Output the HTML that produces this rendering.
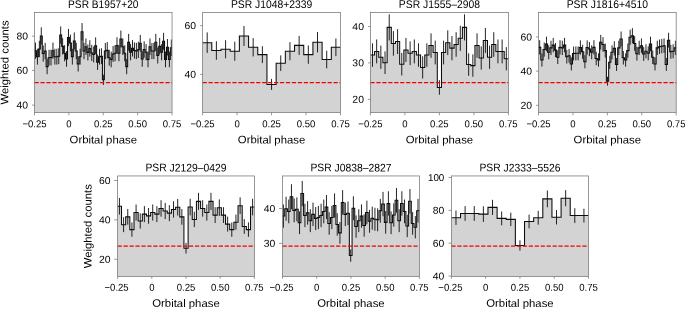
<!DOCTYPE html>
<html><head><meta charset="utf-8"><title>Orbital light curves</title>
<style>
html,body{margin:0;padding:0;background:#fff;}
svg{display:block;will-change:transform;}
text{font-family:"Liberation Sans",sans-serif;fill:#000;text-rendering:geometricPrecision;}
</style></head>
<body>
<svg width="685" height="309" viewBox="0 0 685 309">
<rect width="685" height="309" fill="#fff"/>
<g>
<path d="M34.5 112.45 L34.5 50.68 L36.44 50.68 L36.44 56.68 L38.38 56.68 L38.38 48.96 L40.32 48.96 L40.32 35.93 L42.26 35.93 L42.26 53.59 L44.2 53.59 L44.2 51.02 L46.15 51.02 L46.15 66.63 L48.09 66.63 L48.09 57.71 L50.03 57.71 L50.03 57.54 L51.97 57.54 L51.97 50.68 L53.91 50.68 L53.91 56.68 L55.85 56.68 L55.85 56.68 L57.79 56.68 L57.79 56.17 L59.73 56.17 L59.73 35.07 L61.67 35.07 L61.67 46.39 L63.61 46.39 L63.61 53.25 L65.55 53.25 L65.55 58.91 L67.49 58.91 L67.49 37.47 L69.44 37.47 L69.44 42.96 L71.38 42.96 L71.38 56.68 L73.32 56.68 L73.32 40.9 L75.26 40.9 L75.26 51.02 L77.2 51.02 L77.2 63.88 L79.14 63.88 L79.14 56.68 L81.08 56.68 L81.08 31.81 L83.02 31.81 L83.02 51.02 L84.96 51.02 L84.96 46.73 L86.9 46.73 L86.9 52.39 L88.84 52.39 L88.84 48.45 L90.78 48.45 L90.78 52.91 L92.73 52.91 L92.73 54.45 L94.67 54.45 L94.67 45.7 L96.61 45.7 L96.61 62.17 L98.55 62.17 L98.55 56.68 L100.49 56.68 L100.49 56.17 L102.43 56.17 L102.43 79.83 L104.37 79.83 L104.37 51.02 L106.31 51.02 L106.31 50.16 L108.25 50.16 L108.25 57.71 L110.19 57.71 L110.19 59.42 L112.13 59.42 L112.13 53.94 L114.07 53.94 L114.07 53.25 L116.02 53.25 L116.02 45.53 L117.96 45.53 L117.96 53.25 L119.9 53.25 L119.9 39.02 L121.84 39.02 L121.84 46.73 L123.78 46.73 L123.78 53.25 L125.72 53.25 L125.72 66.63 L127.66 66.63 L127.66 42.27 L129.6 42.27 L129.6 52.22 L131.54 52.22 L131.54 48.28 L133.48 48.28 L133.48 50.51 L135.42 50.51 L135.42 51.02 L137.36 51.02 L137.36 49.82 L139.31 49.82 L139.31 43.3 L141.25 43.3 L141.25 58.91 L143.19 58.91 L143.19 49.48 L145.13 49.48 L145.13 52.22 L147.07 52.22 L147.07 59.42 L149.01 59.42 L149.01 46.73 L150.95 46.73 L150.95 51.02 L152.89 51.02 L152.89 51.02 L154.83 51.02 L154.83 42.27 L156.77 42.27 L156.77 55.48 L158.71 55.48 L158.71 46.22 L160.65 46.22 L160.65 52.22 L162.6 52.22 L162.6 41.25 L164.54 41.25 L164.54 59.42 L166.48 59.42 L166.48 47.25 L168.42 47.25 L168.42 59.42 L170.36 59.42 L170.36 47.76 L172.05 47.76 L172.05 112.45 Z" fill="#d3d3d3" stroke="none"/>
<path d="M34.5 50.68 L36.44 50.68 L36.44 56.68 L38.38 56.68 L38.38 48.96 L40.32 48.96 L40.32 35.93 L42.26 35.93 L42.26 53.59 L44.2 53.59 L44.2 51.02 L46.15 51.02 L46.15 66.63 L48.09 66.63 L48.09 57.71 L50.03 57.71 L50.03 57.54 L51.97 57.54 L51.97 50.68 L53.91 50.68 L53.91 56.68 L55.85 56.68 L55.85 56.68 L57.79 56.68 L57.79 56.17 L59.73 56.17 L59.73 35.07 L61.67 35.07 L61.67 46.39 L63.61 46.39 L63.61 53.25 L65.55 53.25 L65.55 58.91 L67.49 58.91 L67.49 37.47 L69.44 37.47 L69.44 42.96 L71.38 42.96 L71.38 56.68 L73.32 56.68 L73.32 40.9 L75.26 40.9 L75.26 51.02 L77.2 51.02 L77.2 63.88 L79.14 63.88 L79.14 56.68 L81.08 56.68 L81.08 31.81 L83.02 31.81 L83.02 51.02 L84.96 51.02 L84.96 46.73 L86.9 46.73 L86.9 52.39 L88.84 52.39 L88.84 48.45 L90.78 48.45 L90.78 52.91 L92.73 52.91 L92.73 54.45 L94.67 54.45 L94.67 45.7 L96.61 45.7 L96.61 62.17 L98.55 62.17 L98.55 56.68 L100.49 56.68 L100.49 56.17 L102.43 56.17 L102.43 79.83 L104.37 79.83 L104.37 51.02 L106.31 51.02 L106.31 50.16 L108.25 50.16 L108.25 57.71 L110.19 57.71 L110.19 59.42 L112.13 59.42 L112.13 53.94 L114.07 53.94 L114.07 53.25 L116.02 53.25 L116.02 45.53 L117.96 45.53 L117.96 53.25 L119.9 53.25 L119.9 39.02 L121.84 39.02 L121.84 46.73 L123.78 46.73 L123.78 53.25 L125.72 53.25 L125.72 66.63 L127.66 66.63 L127.66 42.27 L129.6 42.27 L129.6 52.22 L131.54 52.22 L131.54 48.28 L133.48 48.28 L133.48 50.51 L135.42 50.51 L135.42 51.02 L137.36 51.02 L137.36 49.82 L139.31 49.82 L139.31 43.3 L141.25 43.3 L141.25 58.91 L143.19 58.91 L143.19 49.48 L145.13 49.48 L145.13 52.22 L147.07 52.22 L147.07 59.42 L149.01 59.42 L149.01 46.73 L150.95 46.73 L150.95 51.02 L152.89 51.02 L152.89 51.02 L154.83 51.02 L154.83 42.27 L156.77 42.27 L156.77 55.48 L158.71 55.48 L158.71 46.22 L160.65 46.22 L160.65 52.22 L162.6 52.22 L162.6 41.25 L164.54 41.25 L164.54 59.42 L166.48 59.42 L166.48 47.25 L168.42 47.25 L168.42 59.42 L170.36 59.42 L170.36 47.76 L172.05 47.76" fill="none" stroke="#0c0c0c" stroke-width="1.05" stroke-linejoin="miter"/>
<path d="M35.47 42.56V58.8M37.41 48.76V64.6M39.35 40.78V57.14M41.29 27.33V44.52M43.23 45.57V61.62M45.17 42.91V59.13M47.12 59.05V74.2M49.06 49.82V65.59M51 49.65V65.43M52.94 42.56V58.8M54.88 48.76V64.6M56.82 48.76V64.6M58.76 48.23V64.1M60.7 26.45V43.69M62.64 38.13V54.65M64.58 45.21V61.29M66.52 51.07V66.75M68.46 28.92V46.02M70.41 34.59V51.33M72.35 48.76V64.6M74.29 32.46V49.34M76.23 42.91V59.13M78.17 56.21V71.55M80.11 48.76V64.6M82.05 23.09V40.54M83.99 42.91V59.13M85.93 38.48V54.98M87.87 44.33V60.46M89.81 40.25V56.64M91.75 44.86V60.95M93.7 46.46V62.45M95.64 37.42V53.99M97.58 54.44V69.9M99.52 48.76V64.6M101.46 48.23V64.1M103.4 74.69V84.98M105.34 42.91V59.13M107.28 42.03V58.3M109.22 49.82V65.59M111.16 51.6V67.25M113.1 45.92V61.95M115.05 45.21V61.29M116.99 37.24V53.82M118.93 45.21V61.29M120.87 30.52V47.51M122.81 38.48V54.98M124.75 45.21V61.29M126.69 59.05V74.2M128.63 33.88V50.67M130.57 44.15V60.29M132.51 40.08V56.48M134.45 42.38V58.63M136.39 42.91V59.13M138.34 41.67V57.97M140.28 34.94V51.66M142.22 51.07V66.75M144.16 41.32V57.64M146.1 44.15V60.29M148.04 51.6V67.25M149.98 38.48V54.98M151.92 42.91V59.13M153.86 42.91V59.13M155.8 33.88V50.67M157.74 47.52V63.44M159.68 37.95V54.49M161.63 44.15V60.29M163.57 32.82V49.67M165.51 51.6V67.25M167.45 39.01V55.48M169.39 51.6V67.25M171.33 39.55V55.98" fill="none" stroke="#0c0c0c" stroke-width="0.9"/>
<path d="M34.5 82.5H172.05" stroke="#f40000" stroke-width="1.25" stroke-dasharray="4.25 1.7" fill="none"/>
<rect x="34.5" y="12.45" width="137.55" height="100" fill="none" stroke="#7e7e7e" stroke-width="0.8"/>
<path d="M34.5 112.45v2.9M68.89 112.45v2.9M103.28 112.45v2.9M137.66 112.45v2.9M172.05 112.45v2.9M34.5 36.16h-2.45M34.5 70.4h-2.45M34.5 105.1h-2.45" stroke="#7e7e7e" stroke-width="0.8" fill="none"/>
<text x="34.5" y="127.3" font-size="10" text-anchor="middle" textLength="24.16" lengthAdjust="spacingAndGlyphs" transform="rotate(0.05 34.5 127.3)">−0.25</text>
<text x="68.89" y="127.3" font-size="10" text-anchor="middle" textLength="5.31" lengthAdjust="spacingAndGlyphs" transform="rotate(0.05 68.89 127.3)">0</text>
<text x="103.28" y="127.3" font-size="10" text-anchor="middle" textLength="18.59" lengthAdjust="spacingAndGlyphs" transform="rotate(0.05 103.28 127.3)">0.25</text>
<text x="137.66" y="127.3" font-size="10" text-anchor="middle" textLength="18.59" lengthAdjust="spacingAndGlyphs" transform="rotate(0.05 137.66 127.3)">0.50</text>
<text x="172.05" y="127.3" font-size="10" text-anchor="middle" textLength="18.59" lengthAdjust="spacingAndGlyphs" transform="rotate(0.05 172.05 127.3)">0.75</text>
<text x="28.05" y="39.61" font-size="10" text-anchor="end" textLength="11.57" lengthAdjust="spacingAndGlyphs" transform="rotate(0.05 28.05 39.61)">80</text>
<text x="28.05" y="73.85" font-size="10" text-anchor="end" textLength="11.57" lengthAdjust="spacingAndGlyphs" transform="rotate(0.05 28.05 73.85)">60</text>
<text x="28.05" y="108.55" font-size="10" text-anchor="end" textLength="11.57" lengthAdjust="spacingAndGlyphs" transform="rotate(0.05 28.05 108.55)">40</text>
<text x="103.28" y="7.9" font-size="11" text-anchor="middle" textLength="70.43" lengthAdjust="spacingAndGlyphs" transform="rotate(0.05 103.28 7.9)">PSR B1957+20</text>
<text x="103.28" y="143.4" font-size="10.9" text-anchor="middle" textLength="67.42" lengthAdjust="spacingAndGlyphs" transform="rotate(0.05 103.28 143.4)">Orbital phase</text>
<text x="8.4" y="62.45" font-size="10.9" text-anchor="middle" textLength="84.23" lengthAdjust="spacingAndGlyphs" transform="rotate(-89.95 8.4 62.45)">Weighted counts</text>
</g>
<g>
<path d="M202.6 112.45 L202.6 42.68 L211.79 42.68 L211.79 50.49 L220.99 50.49 L220.99 49.27 L230.18 49.27 L230.18 51.22 L239.37 51.22 L239.37 35.97 L248.57 35.97 L248.57 47.32 L257.76 47.32 L257.76 54.64 L266.95 54.64 L266.95 84.4 L276.15 84.4 L276.15 63.18 L285.34 63.18 L285.34 51.22 L294.53 51.22 L294.53 45.36 L303.73 45.36 L303.73 54.64 L312.92 54.64 L312.92 42.19 L322.11 42.19 L322.11 59.52 L331.31 59.52 L331.31 47.32 L340.5 47.32 L340.5 112.45 Z" fill="#d3d3d3" stroke="none"/>
<path d="M202.6 42.68 L211.79 42.68 L211.79 50.49 L220.99 50.49 L220.99 49.27 L230.18 49.27 L230.18 51.22 L239.37 51.22 L239.37 35.97 L248.57 35.97 L248.57 47.32 L257.76 47.32 L257.76 54.64 L266.95 54.64 L266.95 84.4 L276.15 84.4 L276.15 63.18 L285.34 63.18 L285.34 51.22 L294.53 51.22 L294.53 45.36 L303.73 45.36 L303.73 54.64 L312.92 54.64 L312.92 42.19 L322.11 42.19 L322.11 59.52 L331.31 59.52 L331.31 47.32 L340.5 47.32" fill="none" stroke="#0c0c0c" stroke-width="1.05" stroke-linejoin="miter"/>
<path d="M207.2 32.43V52.93M216.39 41.22V59.76M225.58 40.24V58.3M234.78 41.7V60.74M243.97 25.97V45.97M253.16 38.17V56.47M262.36 46.22V63.05M271.55 78.91V89.89M280.74 55.37V70.98M289.94 42.19V60.25M299.13 35.85V54.88M308.32 45.49V63.79M317.52 31.94V52.44M326.71 50.73V68.3M335.9 38.53V56.1" fill="none" stroke="#0c0c0c" stroke-width="0.9"/>
<path d="M202.6 82.5H340.5" stroke="#f40000" stroke-width="1.25" stroke-dasharray="4.25 1.7" fill="none"/>
<rect x="202.6" y="12.45" width="137.9" height="100" fill="none" stroke="#7e7e7e" stroke-width="0.8"/>
<path d="M202.6 112.45v2.9M237.07 112.45v2.9M271.55 112.45v2.9M306.02 112.45v2.9M340.5 112.45v2.9M202.6 25.6h-2.45M202.6 74.4h-2.45" stroke="#7e7e7e" stroke-width="0.8" fill="none"/>
<text x="202.6" y="127.3" font-size="10" text-anchor="middle" textLength="24.16" lengthAdjust="spacingAndGlyphs" transform="rotate(0.05 202.6 127.3)">−0.25</text>
<text x="237.07" y="127.3" font-size="10" text-anchor="middle" textLength="5.31" lengthAdjust="spacingAndGlyphs" transform="rotate(0.05 237.07 127.3)">0</text>
<text x="271.55" y="127.3" font-size="10" text-anchor="middle" textLength="18.59" lengthAdjust="spacingAndGlyphs" transform="rotate(0.05 271.55 127.3)">0.25</text>
<text x="306.02" y="127.3" font-size="10" text-anchor="middle" textLength="18.59" lengthAdjust="spacingAndGlyphs" transform="rotate(0.05 306.02 127.3)">0.50</text>
<text x="340.5" y="127.3" font-size="10" text-anchor="middle" textLength="18.59" lengthAdjust="spacingAndGlyphs" transform="rotate(0.05 340.5 127.3)">0.75</text>
<text x="196.15" y="29.05" font-size="10" text-anchor="end" textLength="11.57" lengthAdjust="spacingAndGlyphs" transform="rotate(0.05 196.15 29.05)">60</text>
<text x="196.15" y="77.85" font-size="10" text-anchor="end" textLength="11.57" lengthAdjust="spacingAndGlyphs" transform="rotate(0.05 196.15 77.85)">40</text>
<text x="271.55" y="7.9" font-size="11" text-anchor="middle" textLength="81.35" lengthAdjust="spacingAndGlyphs" transform="rotate(0.05 271.55 7.9)">PSR J1048+2339</text>
<text x="271.55" y="143.4" font-size="10.9" text-anchor="middle" textLength="67.42" lengthAdjust="spacingAndGlyphs" transform="rotate(0.05 271.55 143.4)">Orbital phase</text>
</g>
<g>
<path d="M370.4 112.45 L370.4 55.06 L374.58 55.06 L374.58 51.42 L378.76 51.42 L378.76 57.24 L382.95 57.24 L382.95 62.7 L387.13 62.7 L387.13 27.39 L391.31 27.39 L391.31 43.41 L395.49 43.41 L395.49 41.59 L399.67 41.59 L399.67 64.16 L403.85 64.16 L403.85 49.96 L408.04 49.96 L408.04 53.24 L412.22 53.24 L412.22 51.42 L416.4 51.42 L416.4 55.06 L420.58 55.06 L420.58 67.43 L424.76 67.43 L424.76 55.06 L428.95 55.06 L428.95 45.59 L433.13 45.59 L433.13 52.51 L437.31 52.51 L437.31 87.45 L441.49 87.45 L441.49 52.51 L445.67 52.51 L445.67 42.68 L449.85 42.68 L449.85 48.14 L454.04 48.14 L454.04 44.5 L458.22 44.5 L458.22 38.31 L462.4 38.31 L462.4 27.39 L466.58 27.39 L466.58 64.52 L470.76 64.52 L470.76 65.61 L474.95 65.61 L474.95 45.59 L479.13 45.59 L479.13 57.97 L483.31 57.97 L483.31 40.5 L487.49 40.5 L487.49 57.24 L491.67 57.24 L491.67 44.5 L495.85 44.5 L495.85 51.42 L500.04 51.42 L500.04 51.42 L504.22 51.42 L504.22 58.7 L508.4 58.7 L508.4 112.45 Z" fill="#d3d3d3" stroke="none"/>
<path d="M370.4 55.06 L374.58 55.06 L374.58 51.42 L378.76 51.42 L378.76 57.24 L382.95 57.24 L382.95 62.7 L387.13 62.7 L387.13 27.39 L391.31 27.39 L391.31 43.41 L395.49 43.41 L395.49 41.59 L399.67 41.59 L399.67 64.16 L403.85 64.16 L403.85 49.96 L408.04 49.96 L408.04 53.24 L412.22 53.24 L412.22 51.42 L416.4 51.42 L416.4 55.06 L420.58 55.06 L420.58 67.43 L424.76 67.43 L424.76 55.06 L428.95 55.06 L428.95 45.59 L433.13 45.59 L433.13 52.51 L437.31 52.51 L437.31 87.45 L441.49 87.45 L441.49 52.51 L445.67 52.51 L445.67 42.68 L449.85 42.68 L449.85 48.14 L454.04 48.14 L454.04 44.5 L458.22 44.5 L458.22 38.31 L462.4 38.31 L462.4 27.39 L466.58 27.39 L466.58 64.52 L470.76 64.52 L470.76 65.61 L474.95 65.61 L474.95 45.59 L479.13 45.59 L479.13 57.97 L483.31 57.97 L483.31 40.5 L487.49 40.5 L487.49 57.24 L491.67 57.24 L491.67 44.5 L495.85 44.5 L495.85 51.42 L500.04 51.42 L500.04 51.42 L504.22 51.42 L504.22 58.7 L508.4 58.7" fill="none" stroke="#0c0c0c" stroke-width="1.05" stroke-linejoin="miter"/>
<path d="M372.49 43.3V66.81M376.67 39.48V63.35M380.85 45.6V68.88M385.04 51.34V74.06M389.22 14.32V40.46M393.4 31.08V55.74M397.58 29.17V54M401.76 52.87V75.44M405.95 37.95V61.97M410.13 41.39V65.08M414.31 39.48V63.35M418.49 43.3V66.81M422.67 56.32V78.55M426.85 43.3V66.81M431.04 33.37V57.81M435.22 40.63V64.39M439.4 80.17V94.73M443.58 40.63V64.39M447.76 30.32V55.04M451.95 36.04V60.24M456.13 32.23V56.77M460.31 25.74V50.88M464.49 14.32V40.46M468.67 53.25V75.79M472.85 54.4V76.82M477.04 33.37V57.81M481.22 46.36V69.58M485.4 28.03V52.96M489.58 45.6V68.88M493.76 32.23V56.77M497.95 39.48V63.35M502.13 39.48V63.35M506.31 47.13V70.27" fill="none" stroke="#0c0c0c" stroke-width="0.9"/>
<path d="M370.4 82.5H508.4" stroke="#f40000" stroke-width="1.25" stroke-dasharray="4.25 1.7" fill="none"/>
<rect x="370.4" y="12.45" width="138" height="100" fill="none" stroke="#7e7e7e" stroke-width="0.8"/>
<path d="M370.4 112.45v2.9M404.9 112.45v2.9M439.4 112.45v2.9M473.9 112.45v2.9M508.4 112.45v2.9M370.4 26.5h-2.45M370.4 62.9h-2.45M370.4 99.35h-2.45" stroke="#7e7e7e" stroke-width="0.8" fill="none"/>
<text x="370.4" y="127.3" font-size="10" text-anchor="middle" textLength="24.16" lengthAdjust="spacingAndGlyphs" transform="rotate(0.05 370.4 127.3)">−0.25</text>
<text x="404.9" y="127.3" font-size="10" text-anchor="middle" textLength="5.31" lengthAdjust="spacingAndGlyphs" transform="rotate(0.05 404.9 127.3)">0</text>
<text x="439.4" y="127.3" font-size="10" text-anchor="middle" textLength="18.59" lengthAdjust="spacingAndGlyphs" transform="rotate(0.05 439.4 127.3)">0.25</text>
<text x="473.9" y="127.3" font-size="10" text-anchor="middle" textLength="18.59" lengthAdjust="spacingAndGlyphs" transform="rotate(0.05 473.9 127.3)">0.50</text>
<text x="508.4" y="127.3" font-size="10" text-anchor="middle" textLength="18.59" lengthAdjust="spacingAndGlyphs" transform="rotate(0.05 508.4 127.3)">0.75</text>
<text x="363.95" y="29.95" font-size="10" text-anchor="end" textLength="11.57" lengthAdjust="spacingAndGlyphs" transform="rotate(0.05 363.95 29.95)">40</text>
<text x="363.95" y="66.35" font-size="10" text-anchor="end" textLength="11.57" lengthAdjust="spacingAndGlyphs" transform="rotate(0.05 363.95 66.35)">30</text>
<text x="363.95" y="102.8" font-size="10" text-anchor="end" textLength="11.57" lengthAdjust="spacingAndGlyphs" transform="rotate(0.05 363.95 102.8)">20</text>
<text x="439.4" y="7.9" font-size="11" text-anchor="middle" textLength="81.06" lengthAdjust="spacingAndGlyphs" transform="rotate(0.05 439.4 7.9)">PSR J1555–2908</text>
<text x="439.4" y="143.4" font-size="10.9" text-anchor="middle" textLength="67.42" lengthAdjust="spacingAndGlyphs" transform="rotate(0.05 439.4 143.4)">Orbital phase</text>
</g>
<g>
<path d="M538.5 112.45 L538.5 47.36 L540.8 47.36 L540.8 60.01 L543.06 60.01 L543.06 49.58 L545.32 49.58 L545.32 43.94 L547.59 43.94 L547.59 52.32 L549.85 52.32 L549.85 47.87 L552.11 47.87 L552.11 45.14 L554.37 45.14 L554.37 50.1 L556.63 50.1 L556.63 57.28 L558.89 57.28 L558.89 47.36 L561.16 47.36 L561.16 47.87 L563.42 47.87 L563.42 45.14 L565.68 45.14 L565.68 56.77 L567.94 56.77 L567.94 55.74 L570.2 55.74 L570.2 63.95 L572.46 63.95 L572.46 53.52 L574.73 53.52 L574.73 53.34 L576.99 53.34 L576.99 53.34 L579.25 53.34 L579.25 47.53 L581.51 47.53 L581.51 51.81 L583.77 51.81 L583.77 61.72 L586.03 61.72 L586.03 47.53 L588.3 47.53 L588.3 49.07 L590.56 49.07 L590.56 52.32 L592.82 52.32 L592.82 47.36 L595.08 47.36 L595.08 58.48 L597.34 58.48 L597.34 60.01 L599.6 60.01 L599.6 42.23 L601.87 42.23 L601.87 44.45 L604.13 44.45 L604.13 50.61 L606.39 50.61 L606.39 81.22 L608.65 81.22 L608.65 62.24 L610.91 62.24 L610.91 52.32 L613.17 52.32 L613.17 48.39 L615.44 48.39 L615.44 64.46 L617.7 64.46 L617.7 47.87 L619.96 47.87 L619.96 38.98 L622.22 38.98 L622.22 57.79 L624.48 57.79 L624.48 60.01 L626.74 60.01 L626.74 50.61 L629.01 50.61 L629.01 37.27 L631.27 37.27 L631.27 35.73 L633.53 35.73 L633.53 43.43 L635.79 43.43 L635.79 53.69 L638.05 53.69 L638.05 47.87 L640.31 47.87 L640.31 45.65 L642.58 45.65 L642.58 54.03 L644.84 54.03 L644.84 51.29 L647.1 51.29 L647.1 53.34 L649.36 53.34 L649.36 43.94 L651.62 43.94 L651.62 57.28 L653.88 57.28 L653.88 63.95 L656.15 63.95 L656.15 47.87 L658.41 47.87 L658.41 46.68 L660.67 46.68 L660.67 46.16 L662.93 46.16 L662.93 45.65 L665.19 45.65 L665.19 64.46 L667.45 64.46 L667.45 40.18 L669.72 40.18 L669.72 51.81 L671.98 51.81 L671.98 51.29 L674.24 51.29 L674.24 47.87 L676.2 47.87 L676.2 112.45 Z" fill="#d3d3d3" stroke="none"/>
<path d="M538.5 47.36 L540.8 47.36 L540.8 60.01 L543.06 60.01 L543.06 49.58 L545.32 49.58 L545.32 43.94 L547.59 43.94 L547.59 52.32 L549.85 52.32 L549.85 47.87 L552.11 47.87 L552.11 45.14 L554.37 45.14 L554.37 50.1 L556.63 50.1 L556.63 57.28 L558.89 57.28 L558.89 47.36 L561.16 47.36 L561.16 47.87 L563.42 47.87 L563.42 45.14 L565.68 45.14 L565.68 56.77 L567.94 56.77 L567.94 55.74 L570.2 55.74 L570.2 63.95 L572.46 63.95 L572.46 53.52 L574.73 53.52 L574.73 53.34 L576.99 53.34 L576.99 53.34 L579.25 53.34 L579.25 47.53 L581.51 47.53 L581.51 51.81 L583.77 51.81 L583.77 61.72 L586.03 61.72 L586.03 47.53 L588.3 47.53 L588.3 49.07 L590.56 49.07 L590.56 52.32 L592.82 52.32 L592.82 47.36 L595.08 47.36 L595.08 58.48 L597.34 58.48 L597.34 60.01 L599.6 60.01 L599.6 42.23 L601.87 42.23 L601.87 44.45 L604.13 44.45 L604.13 50.61 L606.39 50.61 L606.39 81.22 L608.65 81.22 L608.65 62.24 L610.91 62.24 L610.91 52.32 L613.17 52.32 L613.17 48.39 L615.44 48.39 L615.44 64.46 L617.7 64.46 L617.7 47.87 L619.96 47.87 L619.96 38.98 L622.22 38.98 L622.22 57.79 L624.48 57.79 L624.48 60.01 L626.74 60.01 L626.74 50.61 L629.01 50.61 L629.01 37.27 L631.27 37.27 L631.27 35.73 L633.53 35.73 L633.53 43.43 L635.79 43.43 L635.79 53.69 L638.05 53.69 L638.05 47.87 L640.31 47.87 L640.31 45.65 L642.58 45.65 L642.58 54.03 L644.84 54.03 L644.84 51.29 L647.1 51.29 L647.1 53.34 L649.36 53.34 L649.36 43.94 L651.62 43.94 L651.62 57.28 L653.88 57.28 L653.88 63.95 L656.15 63.95 L656.15 47.87 L658.41 47.87 L658.41 46.68 L660.67 46.68 L660.67 46.16 L662.93 46.16 L662.93 45.65 L665.19 45.65 L665.19 64.46 L667.45 64.46 L667.45 40.18 L669.72 40.18 L669.72 51.81 L671.98 51.81 L671.98 51.29 L674.24 51.29 L674.24 47.87 L676.2 47.87" fill="none" stroke="#0c0c0c" stroke-width="1.05" stroke-linejoin="miter"/>
<path d="M539.67 40.2V54.52M541.93 53.36V66.67M544.19 42.51V56.66M546.46 36.65V51.23M548.72 45.35V59.29M550.98 40.73V55.02M553.24 37.89V52.39M555.5 43.04V57.15M557.76 50.51V64.04M560.03 40.2V54.52M562.29 40.73V55.02M564.55 37.89V52.39M566.81 49.98V63.55M569.07 48.91V62.57M571.33 57.46V70.43M573.6 46.6V60.44M575.86 46.42V60.27M578.12 46.42V60.27M580.38 40.38V54.69M582.64 44.82V58.79M584.9 55.14V68.31M587.17 40.38V54.69M589.43 41.97V56.17M591.69 45.35V59.29M593.95 40.2V54.52M596.21 51.76V65.19M598.47 53.36V66.67M600.74 34.87V49.59M603 37.18V51.73M605.26 43.57V57.64M607.52 76.77V85.66M609.78 55.68V68.8M612.04 45.35V59.29M614.3 41.26V55.51M616.57 57.99V70.93M618.83 40.73V55.02M621.09 31.5V46.46M623.35 51.05V64.54M625.61 53.36V66.67M627.87 43.57V57.64M630.14 29.73V44.81M632.4 28.13V43.33M634.66 36.11V50.74M636.92 46.77V60.6M639.18 40.73V55.02M641.44 38.42V52.88M643.71 47.13V60.93M645.97 44.28V58.3M648.23 46.42V60.27M650.49 36.65V51.23M652.75 50.51V64.04M655.01 57.46V70.43M657.28 40.73V55.02M659.54 39.49V53.87M661.8 38.95V53.37M664.06 38.42V52.88M666.32 57.99V70.93M668.58 32.74V47.61M670.85 44.82V58.79M673.11 44.28V58.3M675.37 40.73V55.02" fill="none" stroke="#0c0c0c" stroke-width="0.9"/>
<path d="M538.5 82.5H676.2" stroke="#f40000" stroke-width="1.25" stroke-dasharray="4.25 1.7" fill="none"/>
<rect x="538.5" y="12.45" width="137.7" height="100" fill="none" stroke="#7e7e7e" stroke-width="0.8"/>
<path d="M538.5 112.45v2.9M572.92 112.45v2.9M607.35 112.45v2.9M641.78 112.45v2.9M676.2 112.45v2.9M538.5 36.95h-2.45M538.5 71.15h-2.45M538.5 105.34h-2.45" stroke="#7e7e7e" stroke-width="0.8" fill="none"/>
<text x="538.5" y="127.3" font-size="10" text-anchor="middle" textLength="24.16" lengthAdjust="spacingAndGlyphs" transform="rotate(0.05 538.5 127.3)">−0.25</text>
<text x="572.92" y="127.3" font-size="10" text-anchor="middle" textLength="5.31" lengthAdjust="spacingAndGlyphs" transform="rotate(0.05 572.92 127.3)">0</text>
<text x="607.35" y="127.3" font-size="10" text-anchor="middle" textLength="18.59" lengthAdjust="spacingAndGlyphs" transform="rotate(0.05 607.35 127.3)">0.25</text>
<text x="641.78" y="127.3" font-size="10" text-anchor="middle" textLength="18.59" lengthAdjust="spacingAndGlyphs" transform="rotate(0.05 641.78 127.3)">0.50</text>
<text x="676.2" y="127.3" font-size="10" text-anchor="middle" textLength="18.59" lengthAdjust="spacingAndGlyphs" transform="rotate(0.05 676.2 127.3)">0.75</text>
<text x="532.05" y="40.4" font-size="10" text-anchor="end" textLength="11.57" lengthAdjust="spacingAndGlyphs" transform="rotate(0.05 532.05 40.4)">60</text>
<text x="532.05" y="74.6" font-size="10" text-anchor="end" textLength="11.57" lengthAdjust="spacingAndGlyphs" transform="rotate(0.05 532.05 74.6)">40</text>
<text x="532.05" y="108.79" font-size="10" text-anchor="end" textLength="11.57" lengthAdjust="spacingAndGlyphs" transform="rotate(0.05 532.05 108.79)">20</text>
<text x="607.35" y="7.9" font-size="11" text-anchor="middle" textLength="81.35" lengthAdjust="spacingAndGlyphs" transform="rotate(0.05 607.35 7.9)">PSR J1816+4510</text>
<text x="607.35" y="143.4" font-size="10.9" text-anchor="middle" textLength="67.42" lengthAdjust="spacingAndGlyphs" transform="rotate(0.05 607.35 143.4)">Orbital phase</text>
</g>
<g>
<path d="M117.6 276.4 L117.6 206.28 L121.51 206.28 L121.51 224.7 L125.67 224.7 L125.67 216.86 L129.83 216.86 L129.83 229.6 L134 229.6 L134 212.55 L138.16 212.55 L138.16 220.98 L142.32 220.98 L142.32 214.12 L146.48 214.12 L146.48 215.88 L150.64 215.88 L150.64 212.55 L154.8 212.55 L154.8 214.12 L158.97 214.12 L158.97 208.43 L163.13 208.43 L163.13 210.98 L167.29 210.98 L167.29 213.14 L171.45 213.14 L171.45 209.41 L175.61 209.41 L175.61 207.26 L179.77 207.26 L179.77 216.86 L183.93 216.86 L183.93 248.22 L188.1 248.22 L188.1 207.06 L192.26 207.06 L192.26 219.41 L196.42 219.41 L196.42 201.38 L200.58 201.38 L200.58 208.43 L204.74 208.43 L204.74 212.55 L208.9 212.55 L208.9 201.38 L213.06 201.38 L213.06 215.1 L217.23 215.1 L217.23 207.65 L221.39 207.65 L221.39 215.1 L225.55 215.1 L225.55 224.11 L229.71 224.11 L229.71 229.6 L233.87 229.6 L233.87 222.15 L238.03 222.15 L238.03 205.69 L242.2 205.69 L242.2 226.46 L246.36 226.46 L246.36 229.6 L250.52 229.6 L250.52 207.06 L254.4 207.06 L254.4 276.4 Z" fill="#d3d3d3" stroke="none"/>
<path d="M117.6 206.28 L121.51 206.28 L121.51 224.7 L125.67 224.7 L125.67 216.86 L129.83 216.86 L129.83 229.6 L134 229.6 L134 212.55 L138.16 212.55 L138.16 220.98 L142.32 220.98 L142.32 214.12 L146.48 214.12 L146.48 215.88 L150.64 215.88 L150.64 212.55 L154.8 212.55 L154.8 214.12 L158.97 214.12 L158.97 208.43 L163.13 208.43 L163.13 210.98 L167.29 210.98 L167.29 213.14 L171.45 213.14 L171.45 209.41 L175.61 209.41 L175.61 207.26 L179.77 207.26 L179.77 216.86 L183.93 216.86 L183.93 248.22 L188.1 248.22 L188.1 207.06 L192.26 207.06 L192.26 219.41 L196.42 219.41 L196.42 201.38 L200.58 201.38 L200.58 208.43 L204.74 208.43 L204.74 212.55 L208.9 212.55 L208.9 201.38 L213.06 201.38 L213.06 215.1 L217.23 215.1 L217.23 207.65 L221.39 207.65 L221.39 215.1 L225.55 215.1 L225.55 224.11 L229.71 224.11 L229.71 229.6 L233.87 229.6 L233.87 222.15 L238.03 222.15 L238.03 205.69 L242.2 205.69 L242.2 226.46 L246.36 226.46 L246.36 229.6 L250.52 229.6 L250.52 207.06 L254.4 207.06" fill="none" stroke="#0c0c0c" stroke-width="1.05" stroke-linejoin="miter"/>
<path d="M119.43 197.95V214.6M123.59 217.26V232.14M127.75 209.03V224.69M131.92 222.41V236.79M136.08 204.51V220.58M140.24 213.35V228.6M144.4 206.16V222.08M148.56 208V223.76M152.72 204.51V220.58M156.88 206.16V222.08M161.05 200.21V216.66M165.21 202.87V219.09M169.37 205.13V221.14M173.53 201.23V217.59M177.69 198.98V215.53M181.85 209.03V224.69M186.01 242.93V253.51M190.18 198.77V215.35M194.34 211.7V227.11M198.5 192.83V209.92M202.66 200.21V216.66M206.82 204.51V220.58M210.98 192.83V209.92M215.15 207.18V223.01M219.31 199.39V215.91M223.47 207.18V223.01M227.63 216.64V231.58M231.79 222.41V236.79M235.95 214.58V229.72M240.11 197.34V214.04M244.28 219.11V233.82M248.44 222.41V236.79M252.6 198.77V215.35" fill="none" stroke="#0c0c0c" stroke-width="0.9"/>
<path d="M117.6 246H254.4" stroke="#f40000" stroke-width="1.25" stroke-dasharray="4.25 1.7" fill="none"/>
<rect x="117.6" y="175.95" width="136.8" height="100.45" fill="none" stroke="#7e7e7e" stroke-width="0.8"/>
<path d="M117.6 276.4v2.4M151.8 276.4v2.4M186 276.4v2.4M220.2 276.4v2.4M254.4 276.4v2.4M117.6 180.5h-3.45M117.6 219.85h-3.45M117.6 259.25h-3.45" stroke="#7e7e7e" stroke-width="0.8" fill="none"/>
<text x="116.6" y="290.8" font-size="10" text-anchor="middle" textLength="24.16" lengthAdjust="spacingAndGlyphs" transform="rotate(0.05 116.6 290.8)">−0.25</text>
<text x="151.8" y="290.8" font-size="10" text-anchor="middle" textLength="5.31" lengthAdjust="spacingAndGlyphs" transform="rotate(0.05 151.8 290.8)">0</text>
<text x="186" y="290.8" font-size="10" text-anchor="middle" textLength="18.59" lengthAdjust="spacingAndGlyphs" transform="rotate(0.05 186 290.8)">0.25</text>
<text x="220.2" y="290.8" font-size="10" text-anchor="middle" textLength="18.59" lengthAdjust="spacingAndGlyphs" transform="rotate(0.05 220.2 290.8)">0.50</text>
<text x="254.4" y="290.8" font-size="10" text-anchor="middle" textLength="18.59" lengthAdjust="spacingAndGlyphs" transform="rotate(0.05 254.4 290.8)">0.75</text>
<text x="110.5" y="183.95" font-size="10" text-anchor="end" textLength="11.57" lengthAdjust="spacingAndGlyphs" transform="rotate(0.05 110.5 183.95)">60</text>
<text x="110.5" y="223.3" font-size="10" text-anchor="end" textLength="11.57" lengthAdjust="spacingAndGlyphs" transform="rotate(0.05 110.5 223.3)">40</text>
<text x="110.5" y="262.7" font-size="10" text-anchor="end" textLength="11.57" lengthAdjust="spacingAndGlyphs" transform="rotate(0.05 110.5 262.7)">20</text>
<text x="186" y="171.4" font-size="11" text-anchor="middle" textLength="81.06" lengthAdjust="spacingAndGlyphs" transform="rotate(0.05 186 171.4)">PSR J2129–0429</text>
<text x="186" y="306.9" font-size="10.9" text-anchor="middle" textLength="67.42" lengthAdjust="spacingAndGlyphs" transform="rotate(0.05 186 306.9)">Orbital phase</text>
<text x="91.5" y="226.17" font-size="10.9" text-anchor="middle" textLength="84.23" lengthAdjust="spacingAndGlyphs" transform="rotate(-89.95 91.5 226.17)">Weighted counts</text>
</g>
<g>
<path d="M282.5 276.4 L282.5 216.06 L284.73 216.06 L284.73 208.7 L287.43 208.7 L287.43 211.41 L290.12 211.41 L290.12 196.73 L292.81 196.73 L292.81 210.38 L295.5 210.38 L295.5 209.32 L298.2 209.32 L298.2 222.77 L300.89 222.77 L300.89 193.56 L303.58 193.56 L303.58 215.44 L306.27 215.44 L306.27 212.89 L308.97 212.89 L308.97 220.67 L311.66 220.67 L311.66 214.37 L314.35 214.37 L314.35 218.57 L317.04 218.57 L317.04 217.54 L319.74 217.54 L319.74 215.44 L322.43 215.44 L322.43 211.41 L325.12 211.41 L325.12 207.01 L327.81 207.01 L327.81 223.42 L330.51 223.42 L330.51 217.54 L333.2 217.54 L333.2 205.53 L335.89 205.53 L335.89 224.45 L338.58 224.45 L338.58 232.88 L341.28 232.88 L341.28 202.4 L343.97 202.4 L343.97 214.37 L346.66 214.37 L346.66 213.31 L349.35 213.31 L349.35 255.58 L352.05 255.58 L352.05 208.28 L354.74 208.28 L354.74 226.58 L357.43 226.58 L357.43 220.67 L360.12 220.67 L360.12 216.06 L362.82 216.06 L362.82 225.52 L365.51 225.52 L365.51 212.48 L368.2 212.48 L368.2 221.32 L370.89 221.32 L370.89 218.16 L373.59 218.16 L373.59 219.22 L376.28 219.22 L376.28 219.84 L378.97 219.84 L378.97 210.8 L381.66 210.8 L381.66 204.05 L384.36 204.05 L384.36 222.35 L387.05 222.35 L387.05 203.43 L389.74 203.43 L389.74 222.77 L392.43 222.77 L392.43 214.99 L395.13 214.99 L395.13 200.27 L397.82 200.27 L397.82 220.67 L400.51 220.67 L400.51 203.43 L403.2 203.43 L403.2 211.41 L405.9 211.41 L405.9 225.93 L408.59 225.93 L408.59 201.34 L411.28 201.34 L411.28 223.42 L413.97 223.42 L413.97 227.2 L416.67 227.2 L416.67 210.8 L419.4 210.8 L419.4 276.4 Z" fill="#d3d3d3" stroke="none"/>
<path d="M282.5 216.06 L284.73 216.06 L284.73 208.7 L287.43 208.7 L287.43 211.41 L290.12 211.41 L290.12 196.73 L292.81 196.73 L292.81 210.38 L295.5 210.38 L295.5 209.32 L298.2 209.32 L298.2 222.77 L300.89 222.77 L300.89 193.56 L303.58 193.56 L303.58 215.44 L306.27 215.44 L306.27 212.89 L308.97 212.89 L308.97 220.67 L311.66 220.67 L311.66 214.37 L314.35 214.37 L314.35 218.57 L317.04 218.57 L317.04 217.54 L319.74 217.54 L319.74 215.44 L322.43 215.44 L322.43 211.41 L325.12 211.41 L325.12 207.01 L327.81 207.01 L327.81 223.42 L330.51 223.42 L330.51 217.54 L333.2 217.54 L333.2 205.53 L335.89 205.53 L335.89 224.45 L338.58 224.45 L338.58 232.88 L341.28 232.88 L341.28 202.4 L343.97 202.4 L343.97 214.37 L346.66 214.37 L346.66 213.31 L349.35 213.31 L349.35 255.58 L352.05 255.58 L352.05 208.28 L354.74 208.28 L354.74 226.58 L357.43 226.58 L357.43 220.67 L360.12 220.67 L360.12 216.06 L362.82 216.06 L362.82 225.52 L365.51 225.52 L365.51 212.48 L368.2 212.48 L368.2 221.32 L370.89 221.32 L370.89 218.16 L373.59 218.16 L373.59 219.22 L376.28 219.22 L376.28 219.84 L378.97 219.84 L378.97 210.8 L381.66 210.8 L381.66 204.05 L384.36 204.05 L384.36 222.35 L387.05 222.35 L387.05 203.43 L389.74 203.43 L389.74 222.77 L392.43 222.77 L392.43 214.99 L395.13 214.99 L395.13 200.27 L397.82 200.27 L397.82 220.67 L400.51 220.67 L400.51 203.43 L403.2 203.43 L403.2 211.41 L405.9 211.41 L405.9 225.93 L408.59 225.93 L408.59 201.34 L411.28 201.34 L411.28 223.42 L413.97 223.42 L413.97 227.2 L416.67 227.2 L416.67 210.8 L419.4 210.8" fill="none" stroke="#0c0c0c" stroke-width="1.05" stroke-linejoin="miter"/>
<path d="M283.39 204.41V227.7M286.08 196.73V220.67M288.77 199.56V223.27M291.46 184.25V209.21M294.16 198.49V222.28M296.85 197.37V221.26M299.54 211.42V234.11M302.23 180.95V206.17M304.93 203.77V227.11M307.62 201.11V224.68M310.31 209.23V232.11M313 202.65V226.09M315.7 207.04V230.1M318.39 205.96V229.12M321.08 203.77V227.11M323.77 199.56V223.27M326.47 194.97V219.05M329.16 212.11V234.73M331.85 205.96V229.12M334.54 193.42V217.64M337.24 213.19V235.72M339.93 222.01V243.75M342.62 190.16V214.64M345.31 202.65V226.09M348.01 201.54V225.07M350.7 249.39V261.78M353.39 196.3V220.27M356.09 215.42V237.75M358.78 209.23V232.11M361.47 204.41V227.7M364.16 214.3V236.73M366.86 200.68V224.29M369.55 209.91V232.73M372.24 206.6V229.71M374.93 207.72V230.73M377.63 208.37V231.32M380.32 198.92V222.67M383.01 191.88V216.22M385.7 210.99V233.72M388.4 191.24V215.63M391.09 211.42V234.11M393.78 203.3V226.69M396.47 187.94V212.6M399.17 209.23V232.11M401.86 191.24V215.63M404.55 199.56V223.27M407.24 214.73V237.13M409.94 189.05V213.62M412.63 212.11V234.73M415.32 216.07V238.34M418.01 198.92V222.67" fill="none" stroke="#0c0c0c" stroke-width="0.9"/>
<path d="M282.5 246H419.4" stroke="#f40000" stroke-width="1.25" stroke-dasharray="4.25 1.7" fill="none"/>
<rect x="282.5" y="175.95" width="136.9" height="100.45" fill="none" stroke="#7e7e7e" stroke-width="0.8"/>
<path d="M282.5 276.4v2.4M316.73 276.4v2.4M350.95 276.4v2.4M385.17 276.4v2.4M419.4 276.4v2.4M282.5 208.57h-3.45M282.5 243.34h-3.45" stroke="#7e7e7e" stroke-width="0.8" fill="none"/>
<text x="281.5" y="290.8" font-size="10" text-anchor="middle" textLength="24.16" lengthAdjust="spacingAndGlyphs" transform="rotate(0.05 281.5 290.8)">−0.25</text>
<text x="316.73" y="290.8" font-size="10" text-anchor="middle" textLength="5.31" lengthAdjust="spacingAndGlyphs" transform="rotate(0.05 316.73 290.8)">0</text>
<text x="350.95" y="290.8" font-size="10" text-anchor="middle" textLength="18.59" lengthAdjust="spacingAndGlyphs" transform="rotate(0.05 350.95 290.8)">0.25</text>
<text x="385.17" y="290.8" font-size="10" text-anchor="middle" textLength="18.59" lengthAdjust="spacingAndGlyphs" transform="rotate(0.05 385.17 290.8)">0.50</text>
<text x="419.4" y="290.8" font-size="10" text-anchor="middle" textLength="18.59" lengthAdjust="spacingAndGlyphs" transform="rotate(0.05 419.4 290.8)">0.75</text>
<text x="275.4" y="212.02" font-size="10" text-anchor="end" textLength="11.57" lengthAdjust="spacingAndGlyphs" transform="rotate(0.05 275.4 212.02)">40</text>
<text x="275.4" y="246.79" font-size="10" text-anchor="end" textLength="11.57" lengthAdjust="spacingAndGlyphs" transform="rotate(0.05 275.4 246.79)">30</text>
<text x="350.95" y="171.4" font-size="11" text-anchor="middle" textLength="81.06" lengthAdjust="spacingAndGlyphs" transform="rotate(0.05 350.95 171.4)">PSR J0838–2827</text>
<text x="350.95" y="306.9" font-size="10.9" text-anchor="middle" textLength="67.42" lengthAdjust="spacingAndGlyphs" transform="rotate(0.05 350.95 306.9)">Orbital phase</text>
</g>
<g>
<path d="M451.4 276.4 L451.4 217.73 L460.54 217.73 L460.54 213.46 L469.68 213.46 L469.68 213.46 L478.82 213.46 L478.82 214.12 L487.96 214.12 L487.96 207.38 L497.1 207.38 L497.1 218.39 L506.24 218.39 L506.24 219.37 L515.38 219.37 L515.38 245.48 L524.52 245.48 L524.52 221.51 L533.66 221.51 L533.66 217.73 L542.8 217.73 L542.8 198.85 L551.94 198.85 L551.94 217.24 L561.08 217.24 L561.08 198.19 L570.22 198.19 L570.22 215.59 L579.36 215.59 L579.36 215.59 L588.5 215.59 L588.5 276.4 Z" fill="#d3d3d3" stroke="none"/>
<path d="M451.4 217.73 L460.54 217.73 L460.54 213.46 L469.68 213.46 L469.68 213.46 L478.82 213.46 L478.82 214.12 L487.96 214.12 L487.96 207.38 L497.1 207.38 L497.1 218.39 L506.24 218.39 L506.24 219.37 L515.38 219.37 L515.38 245.48 L524.52 245.48 L524.52 221.51 L533.66 221.51 L533.66 217.73 L542.8 217.73 L542.8 198.85 L551.94 198.85 L551.94 217.24 L561.08 217.24 L561.08 198.19 L570.22 198.19 L570.22 215.59 L579.36 215.59 L579.36 215.59 L588.5 215.59" fill="none" stroke="#0c0c0c" stroke-width="1.05" stroke-linejoin="miter"/>
<path d="M455.97 210.5V224.95M465.11 206.07V220.85M474.25 206.07V220.85M483.39 206.32V221.92M492.53 199.83V214.94M501.67 211.49V225.28M510.81 212.64V226.1M519.95 240.31V250.65M529.09 214.61V228.4M538.23 210.83V224.63M547.37 190.47V207.22M556.51 210.01V224.46M565.65 190.14V206.24M574.79 208.21V222.98M583.93 208.7V222.49" fill="none" stroke="#0c0c0c" stroke-width="0.9"/>
<path d="M451.4 246H588.5" stroke="#f40000" stroke-width="1.25" stroke-dasharray="4.25 1.7" fill="none"/>
<rect x="451.4" y="175.95" width="137.1" height="100.45" fill="none" stroke="#7e7e7e" stroke-width="0.8"/>
<path d="M451.4 276.4v2.4M485.67 276.4v2.4M519.95 276.4v2.4M554.23 276.4v2.4M588.5 276.4v2.4M451.4 177.45h-2.9M451.4 210.36h-2.9M451.4 243.2h-2.9M451.4 276h-2.9" stroke="#7e7e7e" stroke-width="0.8" fill="none"/>
<text x="450.4" y="290.8" font-size="10" text-anchor="middle" textLength="24.16" lengthAdjust="spacingAndGlyphs" transform="rotate(0.05 450.4 290.8)">−0.25</text>
<text x="485.67" y="290.8" font-size="10" text-anchor="middle" textLength="5.31" lengthAdjust="spacingAndGlyphs" transform="rotate(0.05 485.67 290.8)">0</text>
<text x="519.95" y="290.8" font-size="10" text-anchor="middle" textLength="18.59" lengthAdjust="spacingAndGlyphs" transform="rotate(0.05 519.95 290.8)">0.25</text>
<text x="554.23" y="290.8" font-size="10" text-anchor="middle" textLength="18.59" lengthAdjust="spacingAndGlyphs" transform="rotate(0.05 554.23 290.8)">0.50</text>
<text x="588.5" y="290.8" font-size="10" text-anchor="middle" textLength="18.59" lengthAdjust="spacingAndGlyphs" transform="rotate(0.05 588.5 290.8)">0.75</text>
<text x="444.3" y="180.9" font-size="10" text-anchor="end" textLength="16.35" lengthAdjust="spacingAndGlyphs" transform="rotate(0.05 444.3 180.9)">100</text>
<text x="444.3" y="213.81" font-size="10" text-anchor="end" textLength="11.57" lengthAdjust="spacingAndGlyphs" transform="rotate(0.05 444.3 213.81)">80</text>
<text x="444.3" y="246.65" font-size="10" text-anchor="end" textLength="11.57" lengthAdjust="spacingAndGlyphs" transform="rotate(0.05 444.3 246.65)">60</text>
<text x="444.3" y="279.45" font-size="10" text-anchor="end" textLength="11.57" lengthAdjust="spacingAndGlyphs" transform="rotate(0.05 444.3 279.45)">40</text>
<text x="519.95" y="171.4" font-size="11" text-anchor="middle" textLength="81.06" lengthAdjust="spacingAndGlyphs" transform="rotate(0.05 519.95 171.4)">PSR J2333–5526</text>
<text x="519.95" y="306.9" font-size="10.9" text-anchor="middle" textLength="67.42" lengthAdjust="spacingAndGlyphs" transform="rotate(0.05 519.95 306.9)">Orbital phase</text>
</g>
</svg>
</body></html>
